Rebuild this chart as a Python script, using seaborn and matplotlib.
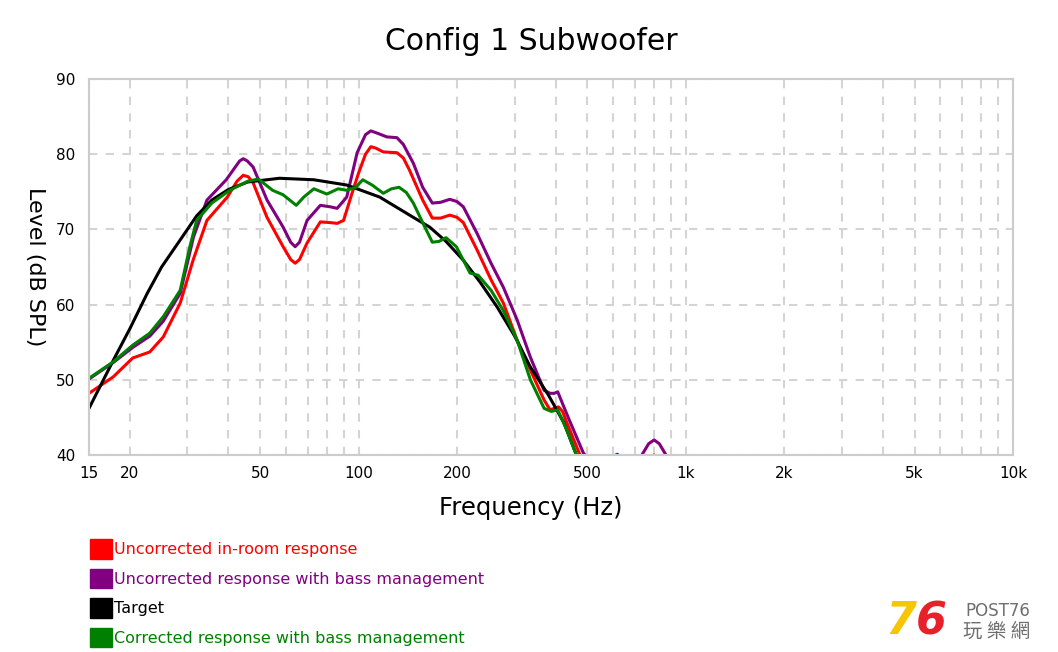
import pandas as pd
import numpy as np
import matplotlib
matplotlib.use("Agg")
import matplotlib.pyplot as plt
import matplotlib.ticker as mticker
from matplotlib.patches import Patch
import seaborn as sns

# values (Hz, dB SPL)
red_freq = [15, 17.8, 20.4, 23, 25.3, 28.5, 31.2, 34.4, 39.7, 42.5, 44.4, 46, 47.6, 52.5, 58.8, 62, 64, 66,
            69.6, 76.4, 82, 86, 90, 95, 100, 105, 109, 113, 119, 131, 137, 143, 157, 168, 178, 190, 200, 209,
            230, 254, 277, 305, 335, 369, 385, 396, 408, 420, 433, 475, 520, 650, 800, 900]
red_db = [48.2, 50.4, 52.9, 53.7, 55.7, 60.2, 65.9, 71.2, 74.3, 76.4, 77.2, 77.0, 76.2, 71.6, 67.7, 66.0, 65.5, 66.0,
          68.2, 71.0, 70.9, 70.8, 71.2, 74.5, 77.5, 80.0, 81.0, 80.8, 80.3, 80.2, 79.5, 77.9, 73.9, 71.5, 71.5, 71.9, 71.6, 70.9,
          67.3, 63.3, 60.2, 55.3, 51.3, 47.3, 46.0, 46.2, 46.4, 45.8, 44.3, 40.0, 37.0, 38.0, 40.0, 37.0]

purple_freq = [15, 17.8, 20.4, 23, 25.3, 28.5, 31.3, 34.4, 39.4, 42, 43.3, 44.4, 45.7, 47.6, 52.5, 58.8, 62, 64, 66,
               69.6, 76.4, 82, 86, 92, 99, 105, 109, 114, 122, 131, 137, 147, 157, 168, 178, 190, 200, 209, 230, 254,
               277, 305, 335, 369, 385, 396, 406, 440, 486, 520, 580, 618, 660, 734, 770, 800, 830, 870, 950]
purple_db = [50.1, 52.3, 54.3, 55.8, 57.8, 61.5, 69.0, 73.9, 76.6, 78.3, 79.1, 79.4, 79.1, 78.3, 73.9, 70.3, 68.3, 67.7, 68.3,
             71.2, 73.2, 73.0, 72.8, 74.3, 80.2, 82.6, 83.1, 82.8, 82.3, 82.2, 81.3, 78.8, 75.6, 73.5, 73.6, 74.0, 73.7, 73.0, 69.5, 65.5,
             62.3, 58.0, 53.0, 48.6, 48.2, 48.2, 48.4, 44.7, 40.3, 38.5, 39.5, 40.1, 39.0, 40.0, 41.5, 42.0, 41.5, 40.0, 37.0]

target_freq = [15, 17.8, 20, 22.6, 25, 28.5, 32, 35.6, 40, 45.8, 57.3, 73, 92, 116, 147, 165,
               185, 209, 235, 265, 300, 335, 380, 424, 466, 520]
target_db = [46.2, 52.6, 56.8, 61.5, 65.0, 68.6, 71.8, 73.9, 75.3, 76.3, 76.8, 76.6, 75.9, 74.3, 71.6, 70.3,
             68.4, 65.9, 63.0, 59.7, 55.8, 51.7, 48.0, 44.3, 39.7, 35.0]

green_freq = [15, 17.8, 20.4, 23, 25.3, 28.5, 30.5, 32, 35.6, 40.4, 45.8, 49.4, 54.6, 58.8, 64.5, 68,
              73, 80, 86.6, 92, 98, 103, 110, 119, 126, 133, 140, 147, 157, 168, 176, 185, 199, 219, 232, 254, 277, 305,
              335, 369, 388, 406, 433, 466, 520]
green_db = [50.2, 52.4, 54.6, 56.2, 58.4, 61.9, 67.7, 71.2, 73.5, 75.2, 76.4, 76.7, 75.2, 74.6, 73.2, 74.3,
            75.4, 74.7, 75.4, 75.2, 75.6, 76.6, 75.9, 74.8, 75.4, 75.6, 74.9, 73.5, 70.9, 68.3, 68.4, 68.9, 67.7, 64.2, 63.9, 61.9, 59.2, 55.3,
            50.0, 46.2, 45.8, 46.0, 43.3, 39.7, 35.0]

series_names = ["Uncorrected in-room response", "Uncorrected response with bass management",
                "Target", "Corrected response with bass management"]
series_colors = ["#ff0000", "#800080", "#000000", "#008000"]

tick_freqs = [15, 20, 50, 100, 200, 500, 1000, 2000, 5000, 10000]
tick_labels = ["15", "20", "50", "100", "200", "500", "1k", "2k", "5k", "10k"]

frames = []
for name, f, v in zip(series_names, [red_freq, purple_freq, target_freq, green_freq],
                      [red_db, purple_db, target_db, green_db]):
    frames.append(pd.DataFrame({"freq": f, "db": v, "series": name}))
df = pd.concat(frames, ignore_index=True)

sns.set_theme(style="white")
plt.rcParams['font.family'] = ['DejaVu Sans']
plt.rcParams['text.color'] = 'black'
plt.rcParams['axes.labelcolor'] = 'black'

fig = plt.figure(figsize=(10.58, 6.52), dpi=100)
ax = fig.add_axes([89/1058, 1-455/652, 924/1058, 376/652])

grid_col = "#d4d4d4"
sns.lineplot(data=df, x="freq", y="db", hue="series", hue_order=series_names,
             palette=series_colors, estimator=None, sort=True, lw=2.2, legend=False, ax=ax)
for ln in ax.get_lines():
    ln.set_solid_joinstyle("round")
    ln.set_solid_capstyle("round")

ax.set_xscale("log")
ax.set_xlim(15, 10000)
ax.set_ylim(40, 90)
ax.xaxis.set_major_locator(mticker.FixedLocator(tick_freqs))
ax.xaxis.set_major_formatter(mticker.FixedFormatter(tick_labels))
ax.xaxis.set_minor_locator(mticker.LogLocator(base=10, subs=np.arange(1, 10), numticks=20))
ax.xaxis.set_minor_formatter(mticker.NullFormatter())
ax.set_yticks([40, 50, 60, 70, 80, 90])
ax.tick_params(axis="both", which="both", length=0, labelsize=11, colors="#000000")
ax.tick_params(axis="x", pad=8)
ax.tick_params(axis="y", pad=10)

ax.grid(False)
ax.grid(True, which="both", axis="x", color=grid_col, lw=1.5, ls=(0, (4, 4)))
ax.grid(True, which="major", axis="y", color=grid_col, lw=1.5, ls=(0, (4, 4)))
ax.set_axisbelow(True)
for s in ax.spines.values():
    s.set_color("#cccccc")
    s.set_linewidth(1.5)

ax.set_xlabel("")
ax.set_ylabel("Level (dB SPL)", fontsize=16, rotation=270)
ax.yaxis.set_label_coords(-(89-35)/924, 0.5)
ax.yaxis.label.set_va("center")
fig.text(531/1058, 1-508/652, "Frequency (Hz)", fontsize=17.5, ha="center", va="center")

fig.text(531/1058, 1-42/652, "Config 1 Subwoofer", fontsize=21.5, ha="center", va="center")

handles = [Patch(facecolor=c, edgecolor=c) for c in series_colors]
leg = fig.legend(handles, series_names, loc="upper left", bbox_to_anchor=(84/1058, 1-533/652),
                 frameon=False, fontsize=11.5, handlelength=1.35, handleheight=1.5,
                 handletextpad=0.12, labelspacing=0.62, borderaxespad=0)
for t, c in zip(leg.get_texts(), series_colors):
    t.set_color(c)

# watermark logo text
fig.text(886/1058, 1-622/652, "7", fontsize=32, fontweight="bold", fontstyle="italic",
         color="#f7c600", ha="left", va="center")
fig.text(916/1058, 1-622/652, "6", fontsize=32, fontweight="bold", fontstyle="italic",
         color="#e8202a", ha="left", va="center")
fig.text(965/1058, 1-611/652, "POST76", fontsize=12, color="#6e6e6e", ha="left", va="center")
fig.text(963/1058, 1-631/652, "玩 樂 網", fontsize=14, color="#6e6e6e", ha="left", va="center",
         family=["Noto Sans CJK TC", "DejaVu Sans"])

fig.savefig("out.png", dpi=100)
